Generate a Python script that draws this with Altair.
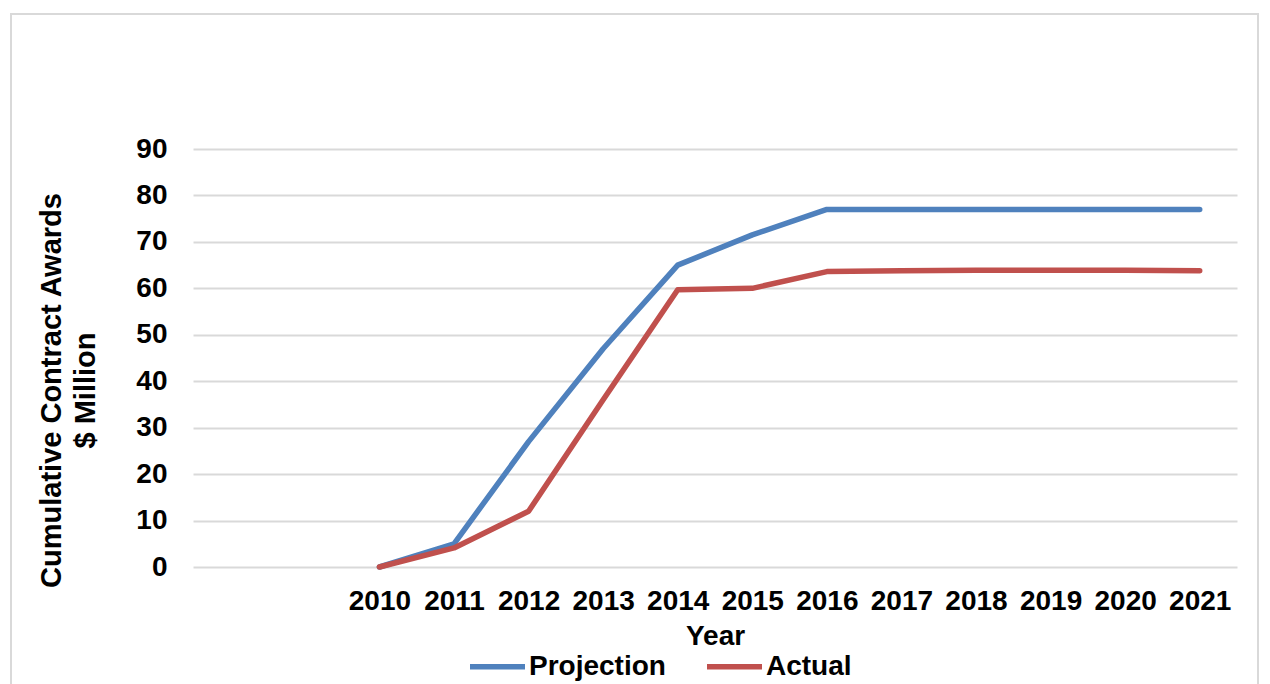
import altair as alt
import pandas as pd

# ---- data ----
years = ["2010", "2011", "2012", "2013", "2014", "2015", "2016",
         "2017", "2018", "2019", "2020", "2021"]
blank_categories = ["2008", "2009"]          # empty slots left of 2010 on the category axis
projection = [0, 5, 27, 47, 65, 71.5, 77, 77, 77, 77, 77, 77]
actual = [0, 4.1, 12, 36, 59.7, 60, 63.6, 63.8, 63.9, 63.9, 63.9, 63.8]
series_names = ["Projection", "Actual"]
series_colors = ["#4F81BD", "#C0504D"]
y_ticks = [0, 10, 20, 30, 40, 50, 60, 70, 80, 90]

rows = []
for name, vals in zip(series_names, [projection, actual]):
    for yr, v in zip(years, vals):
        rows.append({"Year": yr, "Value": v, "Series": name})
df = pd.DataFrame(rows)

FONT = "Liberation Sans"
W, H = 1044, 418

x_enc = alt.X(
    "Year:N",
    scale=alt.Scale(type="point", domain=blank_categories + years, padding=0.5),
    axis=alt.Axis(
        title="Year", labelAngle=0, grid=False, domain=False, ticks=False,
        labelExpr="toNumber(datum.value) < 2010 ? '' : datum.label",
        labelFont=FONT, labelFontSize=28, labelFontWeight="bold", labelColor="#000000",
        labelPadding=20, titleFont=FONT, titleFontSize=28, titleFontWeight="bold",
        titleColor="#000000", titlePadding=7,
    ),
)
y_enc = alt.Y(
    "Value:Q",
    scale=alt.Scale(domain=[0, 90], nice=False),
    axis=alt.Axis(
        values=y_ticks, title=["Cumulative Contract Awards", "$ Million"],
        grid=True, gridColor="#d9d9d9", gridWidth=1.8, domain=False, ticks=False,
        labelFont=FONT, labelFontSize=28, labelFontWeight="bold", labelColor="#000000",
        labelPadding=26, titleFont=FONT, titleFontSize=29, titleFontWeight="bold",
        titleColor="#000000", titleLineHeight=34, titleAngle=-90,
        titleX=-156, titleY=241, titleAlign="center", titleBaseline="top",
    ),
)

lines = alt.Chart(df).mark_line(strokeWidth=5.5, strokeCap="round", strokeJoin="round").encode(
    x=x_enc,
    y=y_enc,
    color=alt.Color(
        "Series:N",
        scale=alt.Scale(domain=series_names, range=series_colors),
        sort=series_names,
        legend=alt.Legend(
            title=None, orient="none", legendX=274, legendY=487, direction="horizontal",
            symbolType="stroke", symbolSize=3025, symbolStrokeWidth=5.5,
            labelFont=FONT, labelFontSize=28, labelFontWeight="bold", labelColor="#000000",
            labelOffset=1, columnPadding=30,
        ),
    ),
)

frame = alt.Chart(pd.DataFrame({"f": [0]})).mark_rect(
    fill=None, stroke="#d9d9d9", strokeWidth=2
).encode(
    x=alt.value(-182), x2=alt.value(1065), y=alt.value(-135), y2=alt.value(600)
)

chart = alt.layer(frame, lines).properties(
    width=W, height=H,
    background="#ffffff",
    autosize=alt.AutoSizeParams(type="none"),
    padding={"left": 193, "top": 149, "right": 33, "bottom": 117},
).configure_view(stroke=None)

chart.save("out.html", embed_options={"renderer": "svg", "actions": False})
